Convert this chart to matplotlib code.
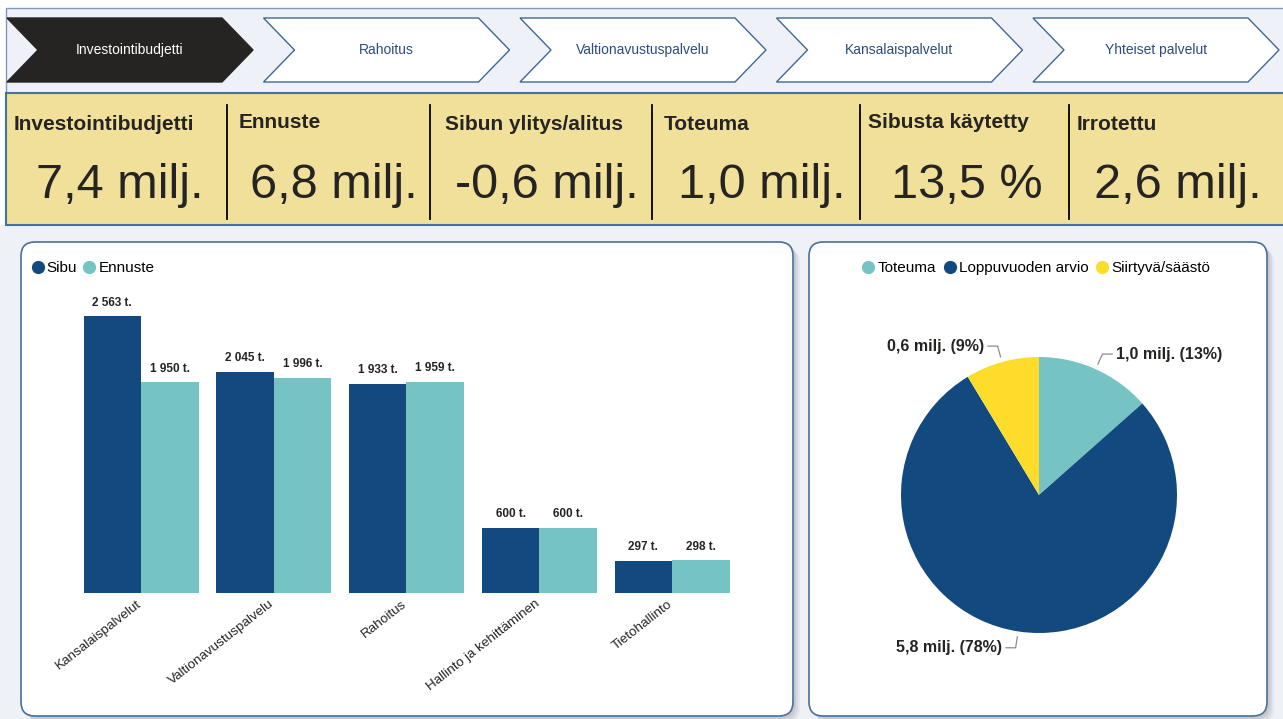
import matplotlib
matplotlib.use('Agg')
import matplotlib.pyplot as plt
from matplotlib.patches import Polygon, FancyBboxPatch, Rectangle
from matplotlib.lines import Line2D
import numpy as np

plt.rcParams['font.family'] = ['Liberation Sans', 'DejaVu Sans']

# ---------------- data ----------------
nav_tabs = ["Investointibudjetti", "Rahoitus", "Valtionavustuspalvelu",
            "Kansalaispalvelut", "Yhteiset palvelut"]
kpi_titles = ["Investointibudjetti", "Ennuste", "Sibun ylitys/alitus",
              "Toteuma", "Sibusta käytetty", "Irrotettu"]
kpi_values = ["7,4 milj.", "6,8 milj.", "-0,6 milj.", "1,0 milj.", "13,5 %", "2,6 milj."]

categories = ["Kansalaispalvelut", "Valtionavustuspalvelu", "Rahoitus",
              "Hallinto ja kehittäminen", "Tietohallinto"]
sibu = [2563, 2045, 1933, 600, 297]        # tuhatta €
ennuste = [1950, 1996, 1959, 600, 298]     # tuhatta €
series_names = ["Sibu", "Ennuste"]

pie_labels = ["Toteuma", "Loppuvuoden arvio", "Siirtyvä/säästö"]
pie_values = [998, 5776, 640]              # tuhatta €

# ---------------- style ----------------
DARK = '#12497E'
TEAL = '#75C4C3'
YELLOW = '#FDDC2A'
NAVDARK = '#252423'
TXT = '#252423'
BORDER = '#4A6F9C'
W, H = 1283, 719

fig = plt.figure(figsize=(W / 100, H / 100), dpi=100, facecolor='white')
bg = fig.add_axes([0, 0, 1, 1], zorder=0)
bg.set_xlim(0, W)
bg.set_ylim(H, 0)
bg.axis('off')

# page areas
bg.add_patch(Rectangle((6, 8), W, 85, fc='#EEF2F8', ec='#7F98B8', lw=1))
bg.add_patch(Rectangle((0, 225), W, H - 225, fc='#EEF1F6', ec='none'))
bg.add_patch(Rectangle((6, 93), W, 132, fc='#F0E09A', ec=BORDER, lw=1.5))

# navigation chevrons
tab_w, notch = 246, 31
for i, name in enumerate(nav_tabs):
    x0 = 7 + i * 256.5
    pts = [(x0, 18), (x0 + tab_w - notch, 18), (x0 + tab_w, 50),
           (x0 + tab_w - notch, 82), (x0, 82), (x0 + notch, 50)]
    active = i == 0
    bg.add_patch(Polygon(pts, closed=True,
                         fc=NAVDARK if active else 'white',
                         ec=NAVDARK if active else '#3F6797', lw=1))
    bg.text(x0 + tab_w / 2, 50, name, ha='center', va='center', fontsize=10,
            color='white' if active else '#2B4C7E')

# KPI band
div_x = [227, 430, 652, 860, 1069]
for x in div_x:
    bg.plot([x, x], [105, 219], color='black', lw=1.3)
title_pos = [(14, 125), (239, 122), (445, 125), (664, 125), (868, 123), (1077, 125)]
value_x = [120, 334, 547, 762, 967, 1178]
for (tx, ty), t, vx, v in zip(title_pos, kpi_titles, value_x, kpi_values):
    bg.text(tx, ty, t, ha='left', va='center', fontsize=15, fontweight='bold', color=TXT)
    bg.text(vx, 198, v, ha='center', va='baseline', fontsize=35, color=TXT)

# panels with soft shadows
for (px, py, pw, ph) in [(21, 242, 772, 474), (809, 242, 458, 474)]:
    for k, a in zip([7, 5, 3], [0.10, 0.15, 0.2]):
        bg.add_patch(FancyBboxPatch((px + k, py + k), pw, ph,
                                    boxstyle='round,pad=0,rounding_size=14',
                                    fc='#8A8F96', ec='none', alpha=a))
    bg.add_patch(FancyBboxPatch((px, py), pw, ph,
                                boxstyle='round,pad=0,rounding_size=14',
                                fc='white', ec=BORDER, lw=1.2))

# ---------------- bar chart ----------------
base_px, top_px = 592.5, 290
left_px, right_px = 40, 775
first_c, step = 141, 132.75
px_per_unit = 0.1077
ax = fig.add_axes([left_px / W, 1 - base_px / H,
                   (right_px - left_px) / W, (base_px - top_px) / H], zorder=2)
ax.patch.set_alpha(0)
ax.set_xlim((left_px - first_c) / step, (right_px - first_c) / step)
ax.set_ylim(0, (base_px - top_px) / px_per_unit)
x = np.arange(len(categories))
bw = 57.5 / step
b1 = ax.bar(x - bw / 2, sibu, bw, color=DARK)
b2 = ax.bar(x + bw / 2, ennuste, bw, color=TEAL)
for bars, vals in [(b1, sibu), (b2, ennuste)]:
    for r, v in zip(bars, vals):
        ax.annotate(f"{v:,} t.".replace(',', ' '),
                    (r.get_x() + r.get_width() / 2, v),
                    xytext=(0, 10), textcoords='offset points',
                    ha='center', va='center', fontsize=8.5,
                    fontweight='bold', color=TXT)
ax.set_xticks(x - 5 / step)
ax.set_xticklabels(categories, rotation=38, ha='right', va='top',
                   rotation_mode='anchor', fontsize=9.7, color=TXT)
ax.tick_params(axis='x', length=0, pad=4)
ax.set_yticks([])
for s in ax.spines.values():
    s.set_visible(False)

h_bar = [Line2D([], [], ls='', marker='o', ms=8.5, color=c) for c in (DARK, TEAL)]
fig.legend(h_bar, series_names, loc='center left',
           bbox_to_anchor=(33 / W, 1 - 268 / H), ncol=2, frameon=False,
           fontsize=11, handlelength=0.6, handletextpad=0.3,
           columnspacing=0.5, borderpad=0, borderaxespad=0)

# ---------------- pie chart ----------------
cx, cy, R = 1039, 495, 138
size = 400
pax = fig.add_axes([(cx - size / 2) / W, 1 - (cy + size / 2) / H, size / W, size / H], zorder=2)
wedges, _ = pax.pie(pie_values, colors=[TEAL, DARK, YELLOW], startangle=90,
                    counterclock=False, radius=1,
                    wedgeprops=dict(linewidth=0))
lim = size / 2 / R
pax.set_xlim(-lim, lim)
pax.set_ylim(-lim, lim)
pax.axis('off')
total = sum(pie_values)
for w, v in zip(wedges, pie_values):
    ang = np.deg2rad((w.theta1 + w.theta2) / 2)
    c, s = np.cos(ang), np.sin(ang)
    sign = 1 if c >= 0 else -1
    p0 = (1.04 * c, 1.04 * s)
    p1 = (1.12 * c, 1.12 * s)
    p2 = (p1[0] + sign * 0.07, p1[1])
    pax.plot([p0[0], p1[0], p2[0]], [p0[1], p1[1], p2[1]], color='#8C8C8C', lw=0.9,
             clip_on=False)
    lab = f"{v / 1000:.1f} milj. ({100 * v / total:.0f}%)".replace('.', ',', 1)
    pax.text(p2[0] + sign * 0.03, p2[1], lab, ha='left' if sign > 0 else 'right',
             va='center', fontsize=11.5, fontweight='bold', color=TXT)

h_pie = [Line2D([], [], ls='', marker='o', ms=8.5, color=c) for c in (TEAL, DARK, YELLOW)]
fig.legend(h_pie, pie_labels, loc='center',
           bbox_to_anchor=(1037 / W, 1 - 268 / H), ncol=3, frameon=False,
           fontsize=11, handlelength=0.6, handletextpad=0.3,
           columnspacing=0.6, borderpad=0, borderaxespad=0)

fig.savefig('out.png', dpi=100, facecolor=fig.get_facecolor())
